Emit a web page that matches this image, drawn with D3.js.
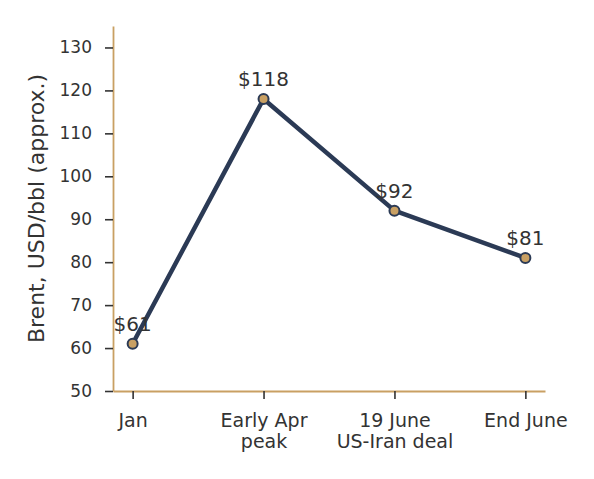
<!DOCTYPE html>
<html>
<head>
<meta charset="utf-8">
<script src="https://cdn.jsdelivr.net/npm/d3@7"></script>
<style>
  body { margin: 0; background: #fff; }
  text { font-family: "DejaVu Sans", sans-serif; fill: #333; }
</style>
</head>
<body>
<div id="chart"></div>
<script>
// data
const labels = ["Jan", "Early Apr\npeak", "19 June\nUS-Iran deal", "End June"];
const prices = [61, 118, 92, 81];
const yTicks = [50, 60, 70, 80, 90, 100, 110, 120, 130];

const W = 594, H = 479;
const margin = {top: 26, right: 49, bottom: 88, left: 113};
const width = W - margin.left - margin.right,
      height = H - margin.top - margin.bottom;

const spine = "#c9a063", ink = "#2b3a55";

let svg = d3.select("#chart").append("svg")
    .attr("width", W).attr("height", H)
  .append("g")
    .attr("transform", "translate(" + margin.left + "," + margin.top + ")");

let x = d3.scaleLinear().domain([-0.15, 3.15]).range([0, width]);
let y = d3.scaleLinear().domain([50, 135]).range([height, 0]);

// y axis
let yAxis = svg.append("g")
  .call(d3.axisLeft(y).tickValues(yTicks).tickSize(8).tickPadding(13).tickSizeOuter(0));
yAxis.select(".domain").attr("stroke", spine).attr("stroke-width", 1.8);
yAxis.selectAll(".tick line").attr("stroke", "#333").attr("stroke-width", 1.6);
yAxis.selectAll(".tick text").style("font-size", "17px").attr("fill", "#333");

// x axis
let xAxis = svg.append("g")
  .attr("transform", "translate(0," + height + ")")
  .call(d3.axisBottom(x).tickValues(d3.range(labels.length)).tickSize(8).tickPadding(6).tickSizeOuter(0).tickFormat(""));
xAxis.select(".domain").attr("stroke", spine).attr("stroke-width", 1.8);
xAxis.selectAll(".tick line").attr("stroke", "#333").attr("stroke-width", 1.6);
xAxis.selectAll(".tick").each(function(d) {
  let t = d3.select(this).append("text")
    .attr("text-anchor", "middle")
    .attr("y", 36)
    .style("font-size", "19px");
  labels[d].split("\n").forEach((s, i) => {
    t.append("tspan").attr("x", 0).attr("dy", i ? 21 : 0).text(s);
  });
});

// y label
svg.append("text")
  .attr("transform", "translate(" + (-69) + "," + (height / 2) + ") rotate(-90)")
  .attr("text-anchor", "middle")
  .style("font-size", "22px")
  .text("Brent, USD/bbl (approx.)");

// line
let line = d3.line().x((d, i) => x(i)).y(d => y(d));
svg.append("path")
  .datum(prices)
  .attr("fill", "none")
  .attr("stroke", ink)
  .attr("stroke-width", 4.5)
  .attr("stroke-linejoin", "round")
  .attr("d", line);

svg.selectAll(".pt")
  .data(prices).enter().append("circle")
  .attr("class", "pt")
  .attr("cx", (d, i) => x(i))
  .attr("cy", d => y(d))
  .attr("r", 5)
  .attr("fill", "#c9a063")
  .attr("stroke", ink)
  .attr("stroke-width", 2);

svg.selectAll(".lbl")
  .data(prices).enter().append("text")
  .attr("class", "lbl")
  .attr("x", (d, i) => x(i))
  .attr("y", d => y(d) - 13)
  .attr("text-anchor", "middle")
  .style("font-size", "20px")
  .text(d => "$" + d);
</script>
</body>
</html>
